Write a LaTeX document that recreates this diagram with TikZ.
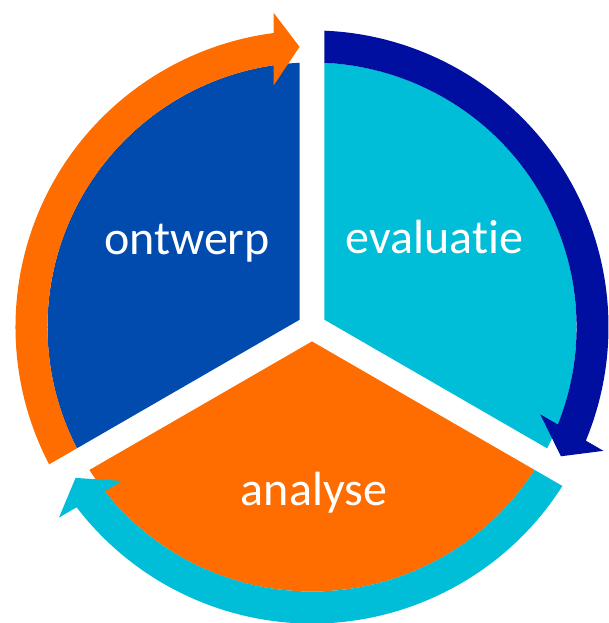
\documentclass[tikz,border=0pt]{standalone}
\usepackage{fontspec}
\setmainfont{Carlito}[Ligatures=NoCommon]
\usepackage{xcolor}
\usepackage{tikz}

\definecolor{ontwerpblue}{HTML}{004BAD}
\definecolor{cyclenavy}{HTML}{000F9F}
\definecolor{cyclecyan}{HTML}{00BED8}
\definecolor{cycleorange}{HTML}{FF6C00}

\begin{document}
\begin{tikzpicture}[x=1pt, y=1pt,
    phase/.style={text=white, font=\fontsize{48}{58}\selectfont, anchor=base, inner sep=0pt}
]
\useasboundingbox (-312,-296) rectangle (296,327);

% ontwerp: blue wedge, orange arrow band
\begin{scope}
\clip (150:14.43) -- +(90:1000) -- +(150:1000) -- +(210:1000) -- cycle;
\fill[ontwerpblue] (0,0) circle[radius=264.5];
\fill[cycleorange] (220:296.5) arc[start angle=220, end angle=97.46, radius=296.5] -- (96.98:316.7) -- (92.55:280.5) -- (99.06:244.4) -- (98.37:264.5) arc[start angle=98.37, end angle=220, radius=264.5] -- cycle;
\end{scope}

% evaluatie: cyan wedge, navy arrow band
\begin{scope}
\clip (30:14.43) -- +(-30:1000) -- +(30:1000) -- +(90:1000) -- cycle;
\fill[cyclecyan] (0,0) circle[radius=264.5];
\fill[cyclenavy] (100:296.5) arc[start angle=100, end angle=-22.54, radius=296.5] -- (-23.02:316.7) -- (-27.45:280.5) -- (-20.94:244.4) -- (-21.63:264.5) arc[start angle=-21.63, end angle=100, radius=264.5] -- cycle;
\end{scope}

% analyse: orange wedge, cyan arrow band
\begin{scope}
\clip (270:14.43) -- +(210:1000) -- +(270:1000) -- +(330:1000) -- cycle;
\fill[cycleorange] (0,0) circle[radius=264.5];
\fill[cyclecyan] (340:296.5) arc[start angle=340, end angle=217.46, radius=296.5] -- (216.98:316.7) -- (212.55:280.5) -- (219.06:244.4) -- (218.37:264.5) arc[start angle=218.37, end angle=340, radius=264.5] -- cycle;
\end{scope}

\node[phase] (ontwerp) at (-125,72.7) {ontwerp};
\node[phase] (evaluatie) at (122.5,73) {evaluatie};
\node[phase] (analyse) at (2,-178.4) {analyse};
\end{tikzpicture}
\end{document}
